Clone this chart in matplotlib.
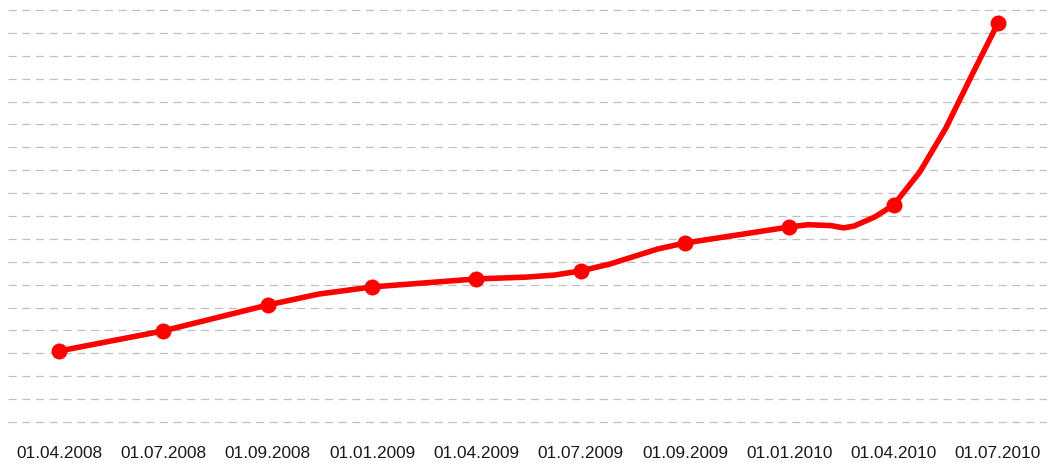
import matplotlib
matplotlib.use("Agg")
from matplotlib import pyplot as plt

# даты по оси X (подписи через равные промежутки)
dates = ["01.04.2008", "01.07.2008", "01.09.2008", "01.01.2009", "01.04.2009",
         "01.07.2009", "01.09.2009", "01.01.2010", "01.04.2010", "01.07.2010"]
# значения в отмеченных точках
marker_values = [3.10, 3.98, 5.11, 5.90, 6.25, 6.60, 7.82, 8.52, 9.48, 17.43]

# промежуточные точки линии (позиция по оси, значение)
extra_pos = [2.49, 4.48, 4.75, 5.28, 5.74, 7.18, 7.40, 7.52, 7.62, 7.82, 8.25, 8.50, 8.75]
extra_values = [5.59, 6.33, 6.42, 6.90, 7.56, 8.62, 8.58, 8.48, 8.56, 8.96, 10.92, 12.84, 15.16]

marker_pos = list(range(len(dates)))
line = sorted(zip(marker_pos + extra_pos, marker_values + extra_values))
line_x = [p[0] for p in line]
line_y = [p[1] for p in line]

W, H = 1047, 463
fig = plt.figure(figsize=(W / 100, H / 100), dpi=100)
ax = fig.add_axes([8 / W, (H - 435) / H, 1039 / W, 435 / H])

ax.plot(line_x, line_y, color="#ff0000", lw=4.0, solid_joinstyle="round",
        solid_capstyle="round", zorder=3)
ax.plot(marker_pos, marker_values, "o", color="#ff0000", ms=11.5, mec="none", zorder=4)

unit = 104.33
ax.set_xlim(-51 / unit, 9 + 49 / unit)
ypx = 22.89
ax.set_ylim(-13 / ypx, 422 / ypx)

ax.set_yticks(range(19))
ax.set_yticklabels([])
ax.grid(axis="y", color="#c0c0c0", lw=0.9, linestyle=(0, (6.5, 4.5)))
ax.set_axisbelow(True)

ax.set_xticks(marker_pos)
ax.set_xticklabels(dates, fontfamily="Liberation Sans", fontsize=12.4, color="#1a1a1a")
ax.tick_params(axis="both", length=0)
ax.tick_params(axis="x", pad=8)

for s in ax.spines.values():
    s.set_visible(False)

fig.savefig("out.png", dpi=100)
